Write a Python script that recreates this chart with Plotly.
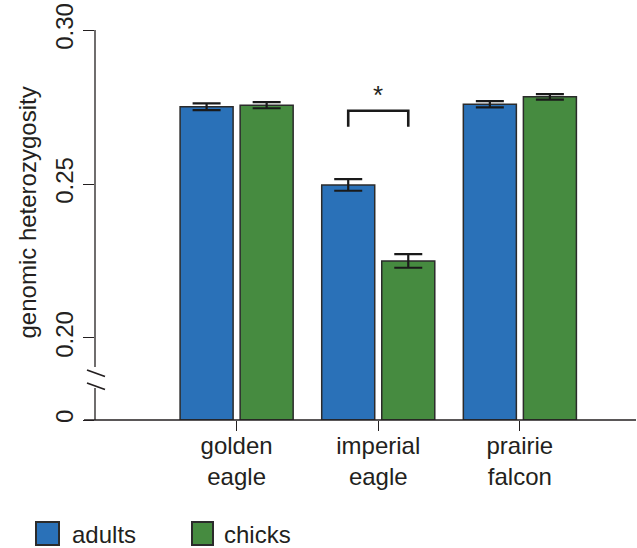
import plotly.graph_objects as go

# Genomic heterozygosity by species and age class
species = ["golden<br>eagle", "imperial<br>eagle", "prairie<br>falcon"]
adults = [0.2751, 0.2497, 0.2759]
chicks = [0.2756, 0.2250, 0.2783]
adults_err = [0.0011, 0.0019, 0.0010]
chicks_err = [0.0010, 0.0022, 0.0009]

upper_ticks = [0.20, 0.25, 0.30]
upper_labels = ["0.20", "0.25", "0.30"]
lower_ticks = [0]
lower_labels = ["0"]

BLUE = "#2a71b8"
GREEN = "#468b40"
EDGE = "#2b2b2b"
INK = "#231f20"
FONT = "Liberation Sans, Arial, sans-serif"

W, H = 637, 548
L, R, T, B = 95, 1, 30, 128
PW, PH = W - L - R, H - T - B


def px(xp):
    return (xp - L) / PW


def py(yp):
    return (H - B - yp) / PH


split = py(395)  # boundary between the broken-axis panels

fig = go.Figure()

for name, vals, errs, col in [("adults", adults, adults_err, BLUE),
                              ("chicks", chicks, chicks_err, GREEN)]:
    # upper panel: the readable part of the bars, with error bars
    fig.add_trace(go.Bar(
        x=species, y=vals, name=name, xaxis="x", yaxis="y2",
        marker=dict(color=col, line=dict(color=EDGE, width=1.5)),
        error_y=dict(type="data", array=errs, color="#1a1a1a",
                     thickness=2.2, width=14),
        offsetgroup=name, showlegend=False,
    ))
    # lower panel: the base of the bars down to zero
    fig.add_trace(go.Bar(
        x=species, y=vals, name=name, xaxis="x", yaxis="y",
        marker=dict(color=col, line=dict(color=EDGE, width=1.5)),
        offsetgroup=name, showlegend=False,
    ))

shapes = []
# y axis line with a break
shapes.append(dict(type="line", xref="paper", yref="paper",
                   x0=0, x1=0, y0=py(30), y1=py(367),
                   line=dict(color=INK, width=1.3)))
shapes.append(dict(type="line", xref="paper", yref="paper",
                   x0=0, x1=0, y0=py(388), y1=py(420),
                   line=dict(color=INK, width=1.3)))
for y0 in (370, 383):
    shapes.append(dict(type="line", xref="paper", yref="paper",
                       x0=px(87), x1=px(105), y0=py(y0), y1=py(y0 + 6.5),
                       line=dict(color=INK, width=1.8)))
# x axis baseline
shapes.append(dict(type="line", xref="paper", yref="paper",
                   x0=px(84), x1=px(636), y0=0, y1=0,
                   line=dict(color=INK, width=1.3)))

# significance bracket over imperial eagle
off = 0.212
shapes.append(dict(type="path", xref="x", yref="y2",
                   path=f"M {1 - off},0.2686 L {1 - off},0.2738 "
                        f"L {1 + off},0.2738 L {1 + off},0.2686",
                   line=dict(color="#1a1a1a", width=2.6)))

# legend swatches
for x0, x1, col in [(36, 59, BLUE), (192, 213, GREEN)]:
    shapes.append(dict(type="rect", xref="paper", yref="paper",
                       x0=px(x0), x1=px(x1), y0=py(545), y1=py(522),
                       fillcolor=col, line=dict(color=EDGE, width=2)))

annotations = [
    dict(text="*", x=1, y=0.2790, xref="x", yref="y2", showarrow=False,
         font=dict(size=26, color=INK, family=FONT)),
    dict(text="genomic heterozygosity", x=px(11), y=py(213), xref="paper",
         yref="paper", textangle=-90, showarrow=False,
         font=dict(size=24, color=INK, family=FONT)),
    dict(text="adults", x=px(70), y=py(534), xref="paper", yref="paper",
         xanchor="left", yanchor="middle", showarrow=False,
         font=dict(size=24, color=INK, family=FONT)),
    dict(text="chicks", x=px(222), y=py(534), xref="paper", yref="paper",
         xanchor="left", yanchor="middle", showarrow=False,
         font=dict(size=24, color=INK, family=FONT)),
]

fig.update_layout(
    width=W, height=H,
    margin=dict(l=L, r=R, t=T, b=B),
    paper_bgcolor="white", plot_bgcolor="white",
    barmode="group", bargap=0.152, bargroupgap=0.117,
    font=dict(family=FONT, color=INK, size=24),
    xaxis=dict(anchor="y", range=[-1.0, 2.82], showline=False,
               showgrid=False, zeroline=False, ticks="outside",
               ticklen=10, tickwidth=1.3, tickcolor=INK,
               ticklabelstandoff=-6,
               tickfont=dict(size=24, color=INK, family=FONT)),
    yaxis=dict(domain=[0, split], range=[0, 0.01], anchor="x",
               tickvals=lower_ticks, ticktext=lower_labels,
               ticks="outside", ticklen=11, tickwidth=1.3, tickcolor=INK,
               tickangle=-90, showgrid=False, zeroline=False,
               showline=False,
               tickfont=dict(size=24, color=INK, family=FONT)),
    yaxis2=dict(domain=[split, 1], range=[0.18149, 0.30], anchor="x",
                tickvals=upper_ticks, ticktext=upper_labels,
                ticks="outside", ticklen=11, tickwidth=1.3, tickcolor=INK,
                tickangle=-90, showgrid=False, zeroline=False,
                showline=False,
                tickfont=dict(size=24, color=INK, family=FONT)),
    shapes=shapes,
    annotations=annotations,
    showlegend=False,
)

fig.write_html("out.html")
